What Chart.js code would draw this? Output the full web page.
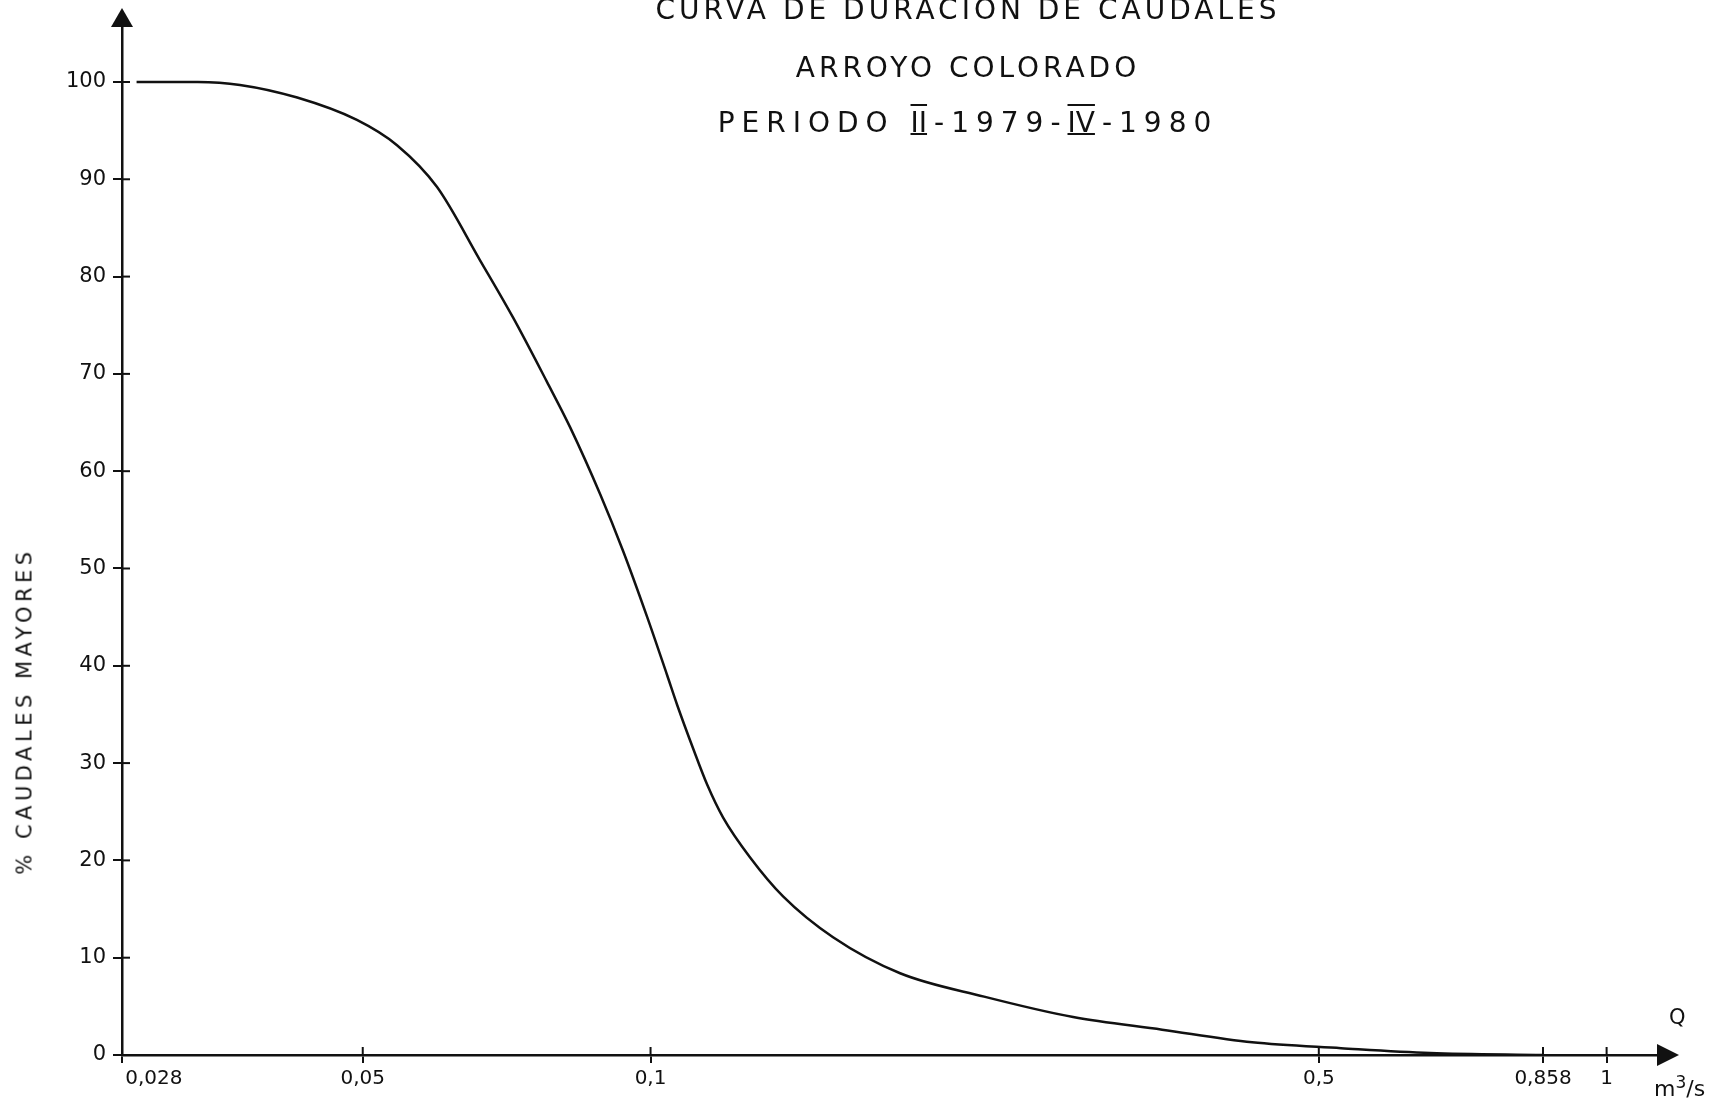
<!DOCTYPE html>
<html>
<head>
<meta charset="utf-8">
<script src="https://cdn.jsdelivr.net/npm/chart.js@4.4.1/dist/chart.umd.min.js"></script>
<style>
  html, body { margin: 0; padding: 0; background: #fff; }
  #wrap { position: relative; width: 1728px; height: 1099px; overflow: hidden; }
  .lbl { position: absolute; font-family: "DejaVu Sans", sans-serif; color: #111; white-space: nowrap; line-height: 1; }
  .ttl { font-size: 28px; letter-spacing: 4px; left: 0; width: 1936px; text-align: center; }
  .rn { letter-spacing: 0; text-decoration: underline overline; text-decoration-thickness: 2px; margin-right: 7px; }
</style>
</head>
<body>
<div id="wrap">
  <canvas id="durationCurve" width="1728" height="1099"></canvas>
  <div class="lbl ttl" style="top:-4px;">CURVA DE DURACION DE CAUDALES</div>
  <div class="lbl ttl" style="top:54px;">ARROYO COLORADO</div>
  <div class="lbl ttl" style="top:109px; letter-spacing:7px;">PERIODO <span class="rn">II</span>-1979-<span class="rn">IV</span>-1980</div>
  <div class="lbl" style="left:25px; top:711px; font-size:21px; letter-spacing:4.5px; transform: translate(-50%,-50%) rotate(-90deg);">% CAUDALES MAYORES</div>
  <div class="lbl" style="left:1669px; top:1007px; font-size:21px;">Q</div>
  <div class="lbl" style="left:1654px; top:1074px; font-size:22px;">m<sup style="font-size:17px;">3</sup>/s</div>
</div>
<script>
// caudal Q (m3/s) and % of time flows are exceeded
const caudal = [0.029, 0.0336, 0.0372, 0.0427, 0.0493, 0.0543, 0.0598, 0.0663, 0.0718, 0.0779,
  0.0824, 0.0886, 0.0936, 0.0992, 0.1041, 0.1066, 0.1108, 0.1146, 0.1191, 0.1271,
  0.1376, 0.1552, 0.1824, 0.2233, 0.2767, 0.3428, 0.4258, 0.5275, 0.6537, 0.858];
const porcentaje = [100, 100, 99.7, 98.4, 96.1, 93.5, 89.2, 81.7, 75.8, 69.2,
  64.5, 57.6, 51.8, 45.0, 39.0, 36.0, 31.5, 27.8, 24.4, 20.3,
  16.3, 12.1, 8.4, 6.0, 3.9, 2.6, 1.3, 0.7, 0.2, 0];
const xTicks = [0.028, 0.05, 0.1, 0.5, 0.858, 1];
const yTicks = [0, 10, 20, 30, 40, 50, 60, 70, 80, 90, 100];

const font = '"DejaVu Sans", sans-serif';

const arrows = {
  id: 'arrows',
  afterDraw(chart) {
    const c = chart.ctx, a = chart.chartArea;
    c.save();
    c.fillStyle = '#111';
    c.beginPath();
    c.moveTo(a.left, a.top - 19);
    c.lineTo(a.left - 11, a.top);
    c.lineTo(a.left + 11, a.top);
    c.closePath();
    c.fill();
    c.beginPath();
    c.moveTo(a.right + 14, a.bottom);
    c.lineTo(a.right - 8, a.bottom - 11);
    c.lineTo(a.right - 8, a.bottom + 11);
    c.closePath();
    c.fill();
    // short marks on the inner side so ticks cross the axes
    c.strokeStyle = '#111';
    c.lineWidth = 2;
    const xs = chart.scales.x, ys = chart.scales.y;
    ys.ticks.forEach(t => {
      const py = ys.getPixelForValue(t.value);
      c.beginPath(); c.moveTo(a.left, py); c.lineTo(a.left + 8, py); c.stroke();
    });
    xs.ticks.forEach(t => {
      const px = xs.getPixelForValue(t.value);
      c.beginPath(); c.moveTo(px, a.bottom); c.lineTo(px, a.bottom - 8); c.stroke();
    });
    c.restore();
  }
};

const durationCurve = document.getElementById('durationCurve');

new Chart(durationCurve, {
  type: 'line',
  data: {
    datasets: [{
      label: 'Curva de duración',
      data: caudal.map((q, i) => ({ x: q, y: porcentaje[i] })),
      borderColor: '#111',
      borderWidth: 2.5,
      pointRadius: 0,
      cubicInterpolationMode: 'monotone',
      fill: false
    }]
  },
  options: {
    responsive: false,
    animation: false,
    layout: { padding: { left: 0, right: 63, top: 27, bottom: 0 } },
    plugins: {
      legend: { display: false },
      tooltip: { enabled: false }
    },
    scales: {
      x: {
        type: 'logarithmic',
        min: 0.028,
        max: 1.151,
        afterFit(s) { s.height = 44; },
        afterBuildTicks(s) { s.ticks = xTicks.map(v => ({ value: v })); },
        border: { display: true, color: '#111', width: 2.5 },
        grid: { drawOnChartArea: false, color: '#111', tickLength: 8, lineWidth: 2 },
        ticks: {
          color: '#111',
          padding: 4,
          maxRotation: 0,
          autoSkip: false,
          font: { family: font, size: 20 },
          callback(v) {
            const t = String(v).replace('.', ',');
            return v === 0.028 ? '\u2007\u2007\u2007\u2007\u2007' + t : t;
          }
        }
      },
      y: {
        min: 0,
        max: 105.65,
        afterFit(s) { s.width = 122; },
        afterBuildTicks(s) { s.ticks = yTicks.map(v => ({ value: v })); },
        border: { display: true, color: '#111', width: 2.5 },
        grid: { drawOnChartArea: false, color: '#111', tickLength: 9, lineWidth: 2 },
        ticks: {
          color: '#111',
          padding: 7,
          font: { family: font, size: 21 }
        }
      }
    }
  },
  plugins: [arrows]
});
</script>
</body>
</html>
